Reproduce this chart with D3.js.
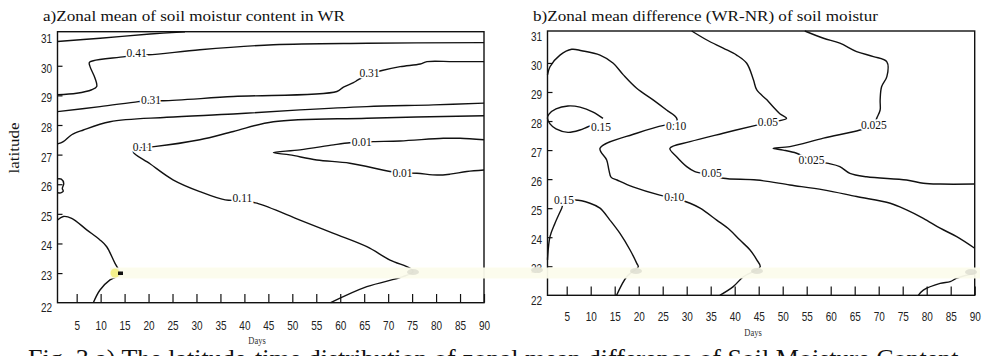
<!DOCTYPE html>
<html>
<head>
<meta charset="utf-8">
<script src="https://cdn.jsdelivr.net/npm/d3@7"></script>
<style>
  html, body { margin: 0; padding: 0; background: #fff; }
  svg { display: block; }
  .tick text { font-family: "Liberation Sans Narrow", "Arial Narrow", "Liberation Sans", sans-serif; font-size: 12.5px; fill: #222; }
  .tick line { stroke: #111; stroke-width: 1.2; }
</style>
</head>
<body>
<script>
// ---------------- data ----------------
const dayTicks = [5,10,15,20,25,30,35,40,45,50,55,60,65,70,75,80,85,90];
const latTicks = [22,23,24,25,26,27,28,29,30,31];

// Panel a : zonal mean of soil moisture content in WR  ([day, latitude])
const a_top = [[1,30.82],[9.9,30.93],[20.3,31.07],[27.6,31.15]];
const a_041 = [[1,29.02],[5.0,29.07],[8.14,29.19],[9.18,29.30],[8.83,29.58],[7.79,29.97],[7.64,30.11],[8.47,30.17],[15.09,30.31],[17.5,30.38],[19.96,30.37],[30.7,30.54],[46.05,30.71],[65.55,30.76],[90,30.78]];
const a_031 = [[1,28.45],[9.87,28.62],[17.87,28.79],[20.5,28.83],[23.09,28.82],[37.7,28.96],[59.3,29.13],[60.67,29.28],[62.75,29.43],[63.7,29.52],[66.1,29.72],[68.7,29.84],[72.5,29.97],[76.7,30.06],[78.1,30.14],[83.6,30.14],[90,30.14]];
const a_021 = [[1,27.36],[2.21,27.44],[3.96,27.67],[6.39,27.83],[11.96,28.11],[23.8,28.26],[37.7,28.37],[51.6,28.51],[65.55,28.62],[79.45,28.68],[90,28.74]];
const a_011 = [[90,28.31],[65.55,28.23],[46.05,28.11],[37.7,27.78],[30.7,27.50],[21.15,27.27],[18.75,27.24],[16.8,27.10],[20.3,26.69],[25.1,26.15],[30.7,25.75],[36.0,25.47],[39.6,25.45],[42.6,25.36],[51.6,24.79],[58.6,24.34],[65.55,23.89],[70.4,23.44],[74.6,23.16],[75.2,23.05],[73.1,22.88],[65.55,22.54],[58.0,22.0]];
const a_001 = [[90,27.50],[85.0,27.55],[81.5,27.55],[72.5,27.46],[66.9,27.44],[64.5,27.42],[62.0,27.40],[58.6,27.33],[51.6,27.16],[46.05,27.07],[49.5,26.99],[55.1,26.82],[62.0,26.71],[70.4,26.43],[73.0,26.38],[76.0,26.37],[80.2,26.31],[82.9,26.34],[86.4,26.43],[90,26.48]];
const a_loop = [[1,26.18],[1.8,26.17],[2.3,26.02],[2.0,25.86],[2.2,25.76],[1.7,25.71],[1,25.71]];
const a_low = [[1,24.79],[2.21,24.91],[3.96,24.85],[7.1,24.46],[9.87,24.12],[11.27,23.89],[13.0,23.33],[14.05,23.05],[14.4,22.97],[11.96,22.77],[9.87,22.43],[8.47,22.0]];
const a_labels = [["0.41",17.5,30.42],["0.31",20.5,28.85],["0.31",66.1,29.77],["0.11",18.75,27.26],["0.11",39.6,25.52],["0.01",64.5,27.44],["0.01",73.0,26.38]];

// Panel b : zonal mean difference (WR-NR) of soil moisture ([day, latitude])
const b_010 = [[1,29.59],[1.52,29.87],[3.6,30.27],[6.04,30.47],[8.13,30.42],[11.94,30.27],[14.7,29.99],[16.8,29.59],[19.58,29.13],[23.0,28.73],[25.8,28.38],[27.9,28.10],[27.8,27.9],[25.5,27.86],[19.58,27.58],[11.94,27.06],[13.33,26.66],[13.8,26.31],[14.23,26.07],[15.48,25.97],[18.8,25.73],[24.4,25.45],[27.4,25.35],[30.7,25.17],[32.8,25.0],[36.25,24.59],[39.0,24.25],[41.1,23.90],[43.2,23.56],[44.6,23.22],[45.3,22.98],[41.8,22.64],[39.7,22.30],[36.9,22.0]];
const b_015a = [[12.56,28.09],[10.5,28.31],[7.77,28.48],[5.27,28.52],[2.77,28.42],[1.31,28.24],[1,28.10],[1.52,27.90],[2.77,27.73],[5.27,27.61],[7.77,27.69],[9.85,27.83]];
const b_005 = [[31.04,31.10],[34.2,30.79],[37.6,30.51],[40.4,30.27],[42.5,29.99],[43.9,29.42],[44.6,29.07],[46.7,28.73],[48.0,28.49],[49.4,28.25],[50.8,28.09],[46.9,27.95],[44.6,27.86],[37.6,27.58],[30.7,27.29],[26.5,27.06],[27.9,26.77],[30.0,26.43],[31.7,26.26],[35.2,26.15],[37.6,26.03],[44.6,25.97],[51.5,25.80],[58.5,25.63],[65.4,25.40],[72.4,25.17],[75.8,24.94],[79.3,24.65],[82.8,24.31],[86.25,24.02],[90,23.62]];
const b_0025 = [[54.6,31.10],[58.5,30.85],[61.9,30.68],[65.4,30.39],[68.9,30.22],[71.7,30.04],[71.7,29.53],[70.6,29.18],[70.3,28.72],[70.3,28.38],[69.6,28.10],[69.0,27.86],[66.1,27.69],[58.5,27.41],[51.5,27.12],[48.0,27.06],[50.1,27.00],[52.9,26.89],[56.0,26.66],[59.2,26.55],[61.9,26.43],[64.0,26.20],[67.5,26.08],[75.8,25.97],[79.3,25.86],[82.8,25.83],[90,25.83]];
const b_015b = [[1,23.22],[1.52,24.02],[2.56,24.48],[3.96,25.0],[4.44,25.2],[6.73,25.28],[9.85,25.17],[11.94,25.0],[14.0,24.59],[16.1,24.13],[18.2,23.56],[19.6,23.10],[19.9,22.98],[17.5,22.64],[15.4,22.0]];
const b_low = [[90,22.76],[86.25,22.59],[84.9,22.47],[82.8,22.41],[79.3,22.18],[78.25,22.0]];
const b_labels = [["0.15",12.15,27.80],["0.10",27.8,27.84],["0.05",46.9,27.98],["0.025",69.0,27.86],["0.025",56.0,26.66],["0.05",35.2,26.20],["0.15",4.44,25.28],["0.10",27.4,25.40]];

// ---------------- drawing ----------------
const W = 988, H = 356;
const SX = 0.8; // horizontal squeeze for the condensed tick font
const svg = d3.select("body").append("svg").attr("width", W).attr("height", H)
  .style("font-family", "'Liberation Serif','Times New Roman',serif");
svg.append("rect").attr("width", W).attr("height", H).attr("fill", "#fff");

function panel(cfg) {
  const x = d3.scaleLinear().domain([1, 90]).range([cfg.left, cfg.right]);
  const y = d3.scaleLinear().domain([22, cfg.latTop]).range([cfg.bottom, cfg.top]);
  const g = svg.append("g");

  const line = d3.line().x(d => x(d[0])).y(d => y(d[1])).curve(d3.curveCatmullRom.alpha(0.5));
  g.append("g").selectAll("path").data(cfg.lines).join("path")
    .attr("d", line).attr("fill", "none").attr("stroke", "#111").attr("stroke-width", 1.4)
    .attr("stroke-linejoin", "round");

  g.append("g").selectAll("text").data(cfg.labels).join("text")
    .attr("x", d => x(d[1])).attr("y", d => y(d[2]))
    .attr("text-anchor", "middle").attr("dominant-baseline", "central")
    .attr("font-size", 11.5).attr("fill", "#111")
    .attr("stroke", "#fff").attr("stroke-width", 3.5).attr("paint-order", "stroke")
    .text(d => d[0]);

  const xa = g.append("g").attr("transform", `translate(0,${cfg.bottom})`)
    .call(d3.axisBottom(x).tickValues(dayTicks).tickSizeInner(-8.7).tickSizeOuter(0).tickPadding(cfg.xPad).tickFormat(d3.format("d")));
  xa.select(".domain").remove();
  xa.selectAll(".tick text").attr("transform", `scale(${SX},1)`);

  const ya = g.append("g").attr("transform", `translate(${cfg.left},0)`)
    .call(d3.axisLeft(y).tickValues(latTicks).tickSizeInner(-5).tickSizeOuter(0).tickPadding(5.5).tickFormat(d3.format("d")));
  ya.select(".domain").remove();
  ya.selectAll(".tick text").attr("x", -5.5 / SX).attr("transform", `scale(${SX},1)`)
    .attr("y", d => d === 22 ? 5 : 2.5);
  ya.selectAll(".tick").filter(d => d === 22 || d === 31).select("line").remove();

  g.append("rect").attr("x", cfg.left).attr("y", cfg.top)
    .attr("width", cfg.right - cfg.left).attr("height", cfg.bottom - cfg.top)
    .attr("fill", "none").attr("stroke", "#111").attr("stroke-width", 1.4);

  g.append("text").attr("x", cfg.titleX).attr("y", 20.5)
    .attr("font-size", 15).attr("fill", "#111")
    .attr("textLength", cfg.titleLen).attr("lengthAdjust", "spacingAndGlyphs")
    .text(cfg.title);

  g.append("text").attr("x", cfg.daysX / 0.85).attr("y", cfg.daysY)
    .attr("transform", "scale(0.85,1)")
    .attr("text-anchor", "middle")
    .style("font-family", "'Liberation Serif',serif")
    .attr("font-size", 10).attr("fill", "#333").text("Days");
}

panel({
  left: 57.5, right: 484, top: 31.7, bottom: 302.7, latTop: 31.15, xPad: 18,
  lines: [a_top, a_041, a_031, a_021, a_011, a_001, a_loop, a_low],
  labels: a_labels,
  title: "a)Zonal mean of soil moistur content in WR", titleX: 43, titleLen: 302,
  daysX: 257, daysY: 344.5
});
panel({
  left: 547.5, right: 974.7, top: 31, bottom: 295.3, latTop: 31.1, xPad: 17.2,
  lines: [b_010, b_015a, b_005, b_0025, b_015b, b_low],
  labels: b_labels,
  title: "b)Zonal mean difference (WR-NR) of soil moistur", titleX: 533, titleLen: 345,
  daysX: 753, daysY: 336
});

// y-axis title
svg.append("text").attr("transform", "translate(19,148) rotate(-90)")
  .attr("text-anchor", "middle").attr("font-size", 14).attr("fill", "#111")
  .attr("textLength", 51).attr("lengthAdjust", "spacingAndGlyphs").text("latitude");

// pale highlighted band from the scanned source
svg.append("rect").attr("x", 110).attr("y", 267.5).attr("width", 870).attr("height", 11)
  .attr("fill", "#fcfcec").attr("opacity", 0.95);
const smudges = [[413,272],[537,270],[636,271],[757,271],[971,272]];
svg.append("g").selectAll("ellipse").data(smudges).join("ellipse")
  .attr("cx", d => d[0]).attr("cy", d => d[1]).attr("rx", 6).attr("ry", 3)
  .attr("fill", "#d8d8cc").attr("opacity", 0.7);
svg.append("circle").attr("cx", 115).attr("cy", 273).attr("r", 4.5).attr("fill", "#f3ef80").attr("opacity", 0.9);
svg.append("rect").attr("x", 118).attr("y", 271.5).attr("width", 5).attr("height", 3.5).attr("fill", "#111");

// caption (cut at bottom edge)
svg.append("text").attr("x", 28).attr("y", 367).attr("font-size", 26).attr("fill", "#111")
  .text("Fig. 3 a) The latitude-time distribution of zonal mean difference of Soil Moisture Content");
</script>
</body>
</html>
